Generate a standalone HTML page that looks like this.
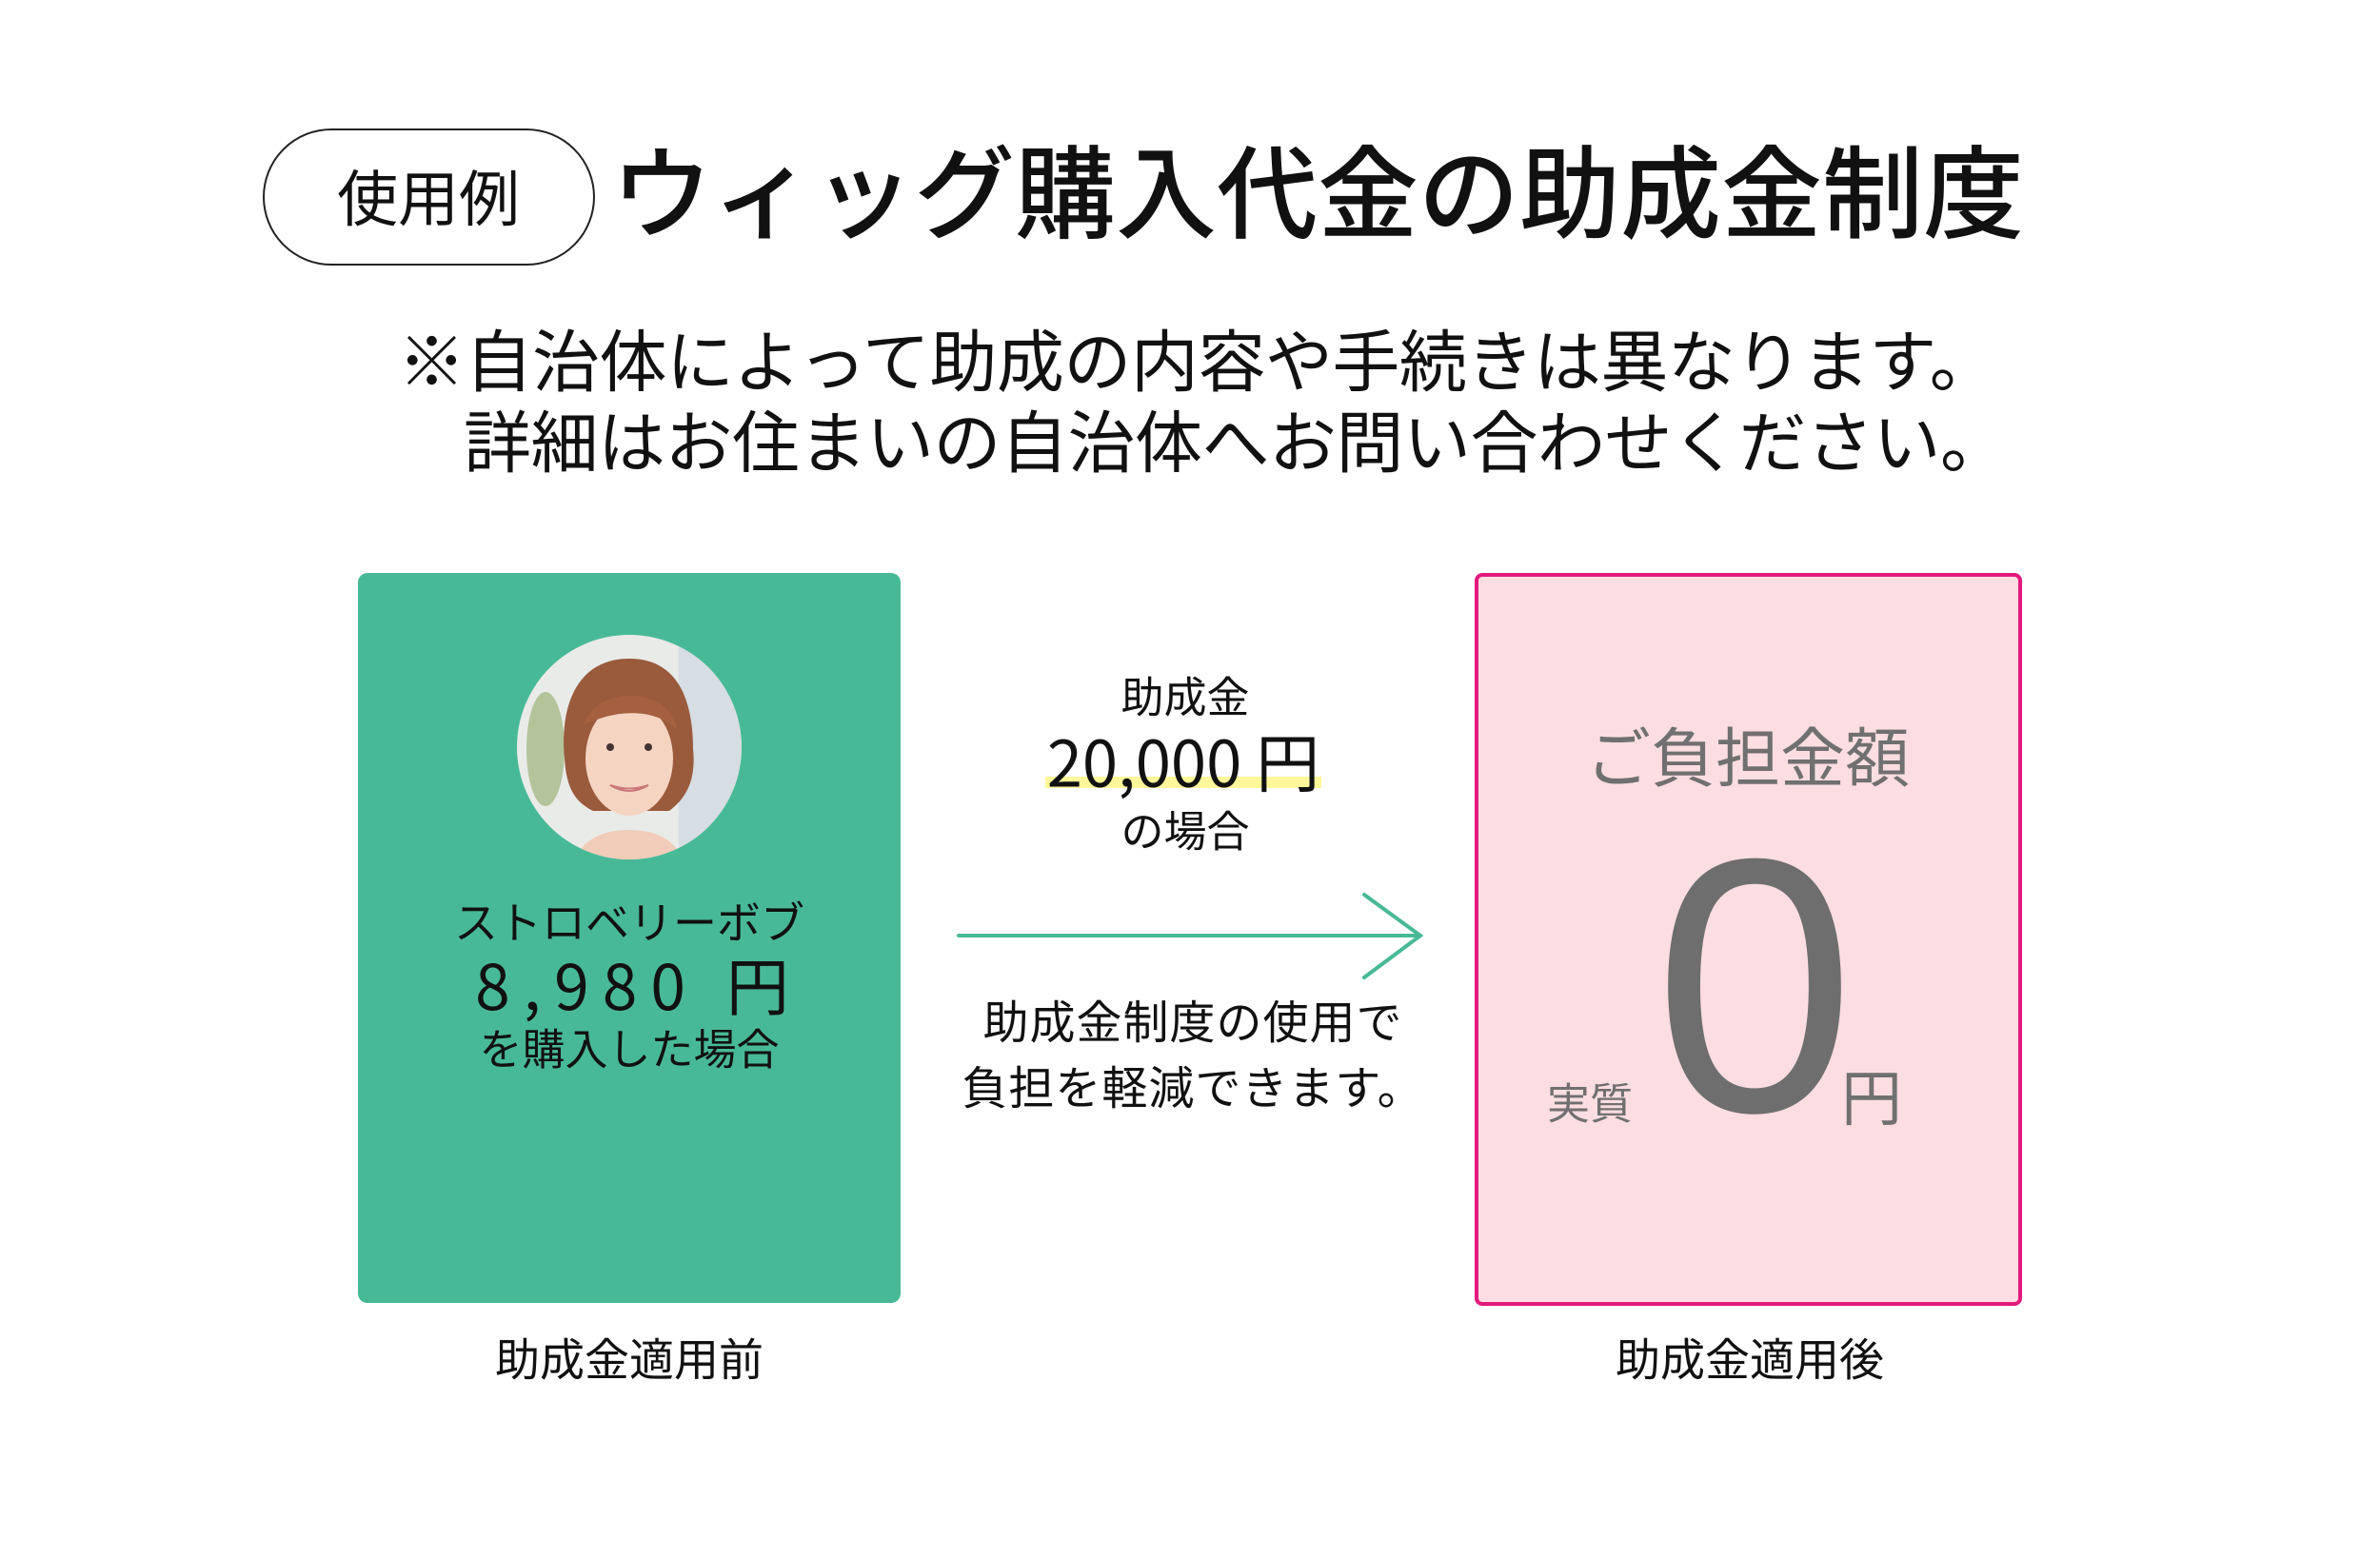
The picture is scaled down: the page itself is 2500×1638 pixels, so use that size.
<!DOCTYPE html>
<html><head><meta charset="utf-8"><style>
html,body{margin:0;padding:0;background:#fff}
body{width:2500px;height:1638px;position:relative;overflow:hidden;font-family:"Liberation Sans","Noto Sans CJK JP",sans-serif;color:#111}
.t{position:absolute;white-space:nowrap;line-height:1;transform:translate(-50%,-50%);font-family:"Noto Sans CJK JP",sans-serif}
</style></head><body>
<div style="position:absolute;left:276px;top:135px;width:345px;height:140px;border:2px solid #222;border-radius:72px"></div>
<div class="t" style="left:450px;top:205px;font-size:64px;font-weight:400">使用例</div>
<div class="t" style="left:1384px;top:196px;font-size:106px;font-weight:500">ウィッグ購入代金の助成金制度</div>
<div class="t" style="left:418px;top:376px;transform:translate(0,-50%);font-size:71px;font-weight:400;letter-spacing:-0.5px">※自治体によって助成の内容や手続きは異なります。</div>
<div class="t" style="left:487px;top:461px;transform:translate(0,-50%);font-size:71px;font-weight:400;letter-spacing:-0.5px">詳細はお住まいの自治体へお問い合わせください。</div>

<div style="position:absolute;left:376px;top:602px;width:570px;height:767px;background:#48b997;border-radius:10px"></div>
<svg style="position:absolute;left:543px;top:667px" width="236" height="236" viewBox="0 0 236 236">
<defs><clipPath id="c"><circle cx="118" cy="118" r="118"/></clipPath></defs>
<g clip-path="url(#c)">
<rect width="236" height="236" fill="#e9ebe8"/>
<rect x="170" width="66" height="236" fill="#d6dde3"/>
<ellipse cx="30" cy="120" rx="20" ry="60" fill="#9bb47a" opacity="0.7"/>
<path d="M118 25 C60 25 45 80 50 130 C52 160 60 175 80 185 L160 185 C180 170 188 150 185 120 C185 70 170 25 118 25Z" fill="#9a5a3c"/>
<path d="M118 236 L60 236 C70 215 90 205 118 205 C146 205 165 215 175 236Z" fill="#f1cdb9"/>
<ellipse cx="118" cy="130" rx="46" ry="60" fill="#f5d4c2"/>
<path d="M70 95 C80 55 160 50 168 100 C150 80 110 75 70 95Z" fill="#a4603f"/>
<path d="M98 158 Q118 170 138 158 Q118 165 98 158Z" fill="#fff" stroke="#c77" stroke-width="2"/>
<circle cx="98" cy="118" r="4" fill="#433"/><circle cx="138" cy="118" r="4" fill="#433"/>
</g></svg>
<div class="t" style="left:661px;top:967px;font-size:46px">ストロベリーボブ</div>
<div class="t" style="left:671px;top:1033px;font-size:66px;letter-spacing:14px">8,980 円</div>
<div class="t" style="left:661px;top:1099px;font-size:45px">を購入した場合</div>
<div class="t" style="left:661px;top:1425px;font-size:47px">助成金適用前</div>

<div class="t" style="left:1245px;top:729px;font-size:45px">助成金</div>
<div style="position:absolute;left:1098px;top:816px;width:290px;height:12px;background:#fff79a"></div>
<div class="t" style="left:1243px;top:798px;font-size:67px">20,000 円</div>
<div class="t" style="left:1245px;top:870px;font-size:45px">の場合</div>
<svg style="position:absolute;left:0;top:0" width="2500" height="1638">
<line x1="1007" y1="983" x2="1492" y2="983" stroke="#48b997" stroke-width="4" stroke-linecap="round"/>
<polyline points="1433,940 1492,983 1433,1027" fill="none" stroke="#48b997" stroke-width="4" stroke-linecap="round"/>
</svg>
<div class="t" style="left:1253px;top:1070px;font-size:48px;letter-spacing:1px">助成金制度の使用で</div>
<div class="t" style="left:1253px;top:1139px;font-size:48px;letter-spacing:1px">負担を軽減できます。</div>

<div style="position:absolute;left:1549px;top:602px;width:567px;height:762px;background:#fcdde2;border:4px solid #e4197c;border-radius:8px"></div>
<div class="t" style="left:1836px;top:792px;font-size:68px;color:#707070">ご負担金額</div>
<div class="t" style="left:1843px;top:1036px;font-size:380px;color:#6e6e6e;font-family:'Liberation Sans',sans-serif">0</div>
<div class="t" style="left:1670px;top:1156px;font-size:45px;color:#707070">実質</div>
<div class="t" style="left:1966px;top:1150px;font-size:64px;color:#707070">円</div>
<div class="t" style="left:1838px;top:1425px;font-size:47px">助成金適用後</div>
</body></html>
